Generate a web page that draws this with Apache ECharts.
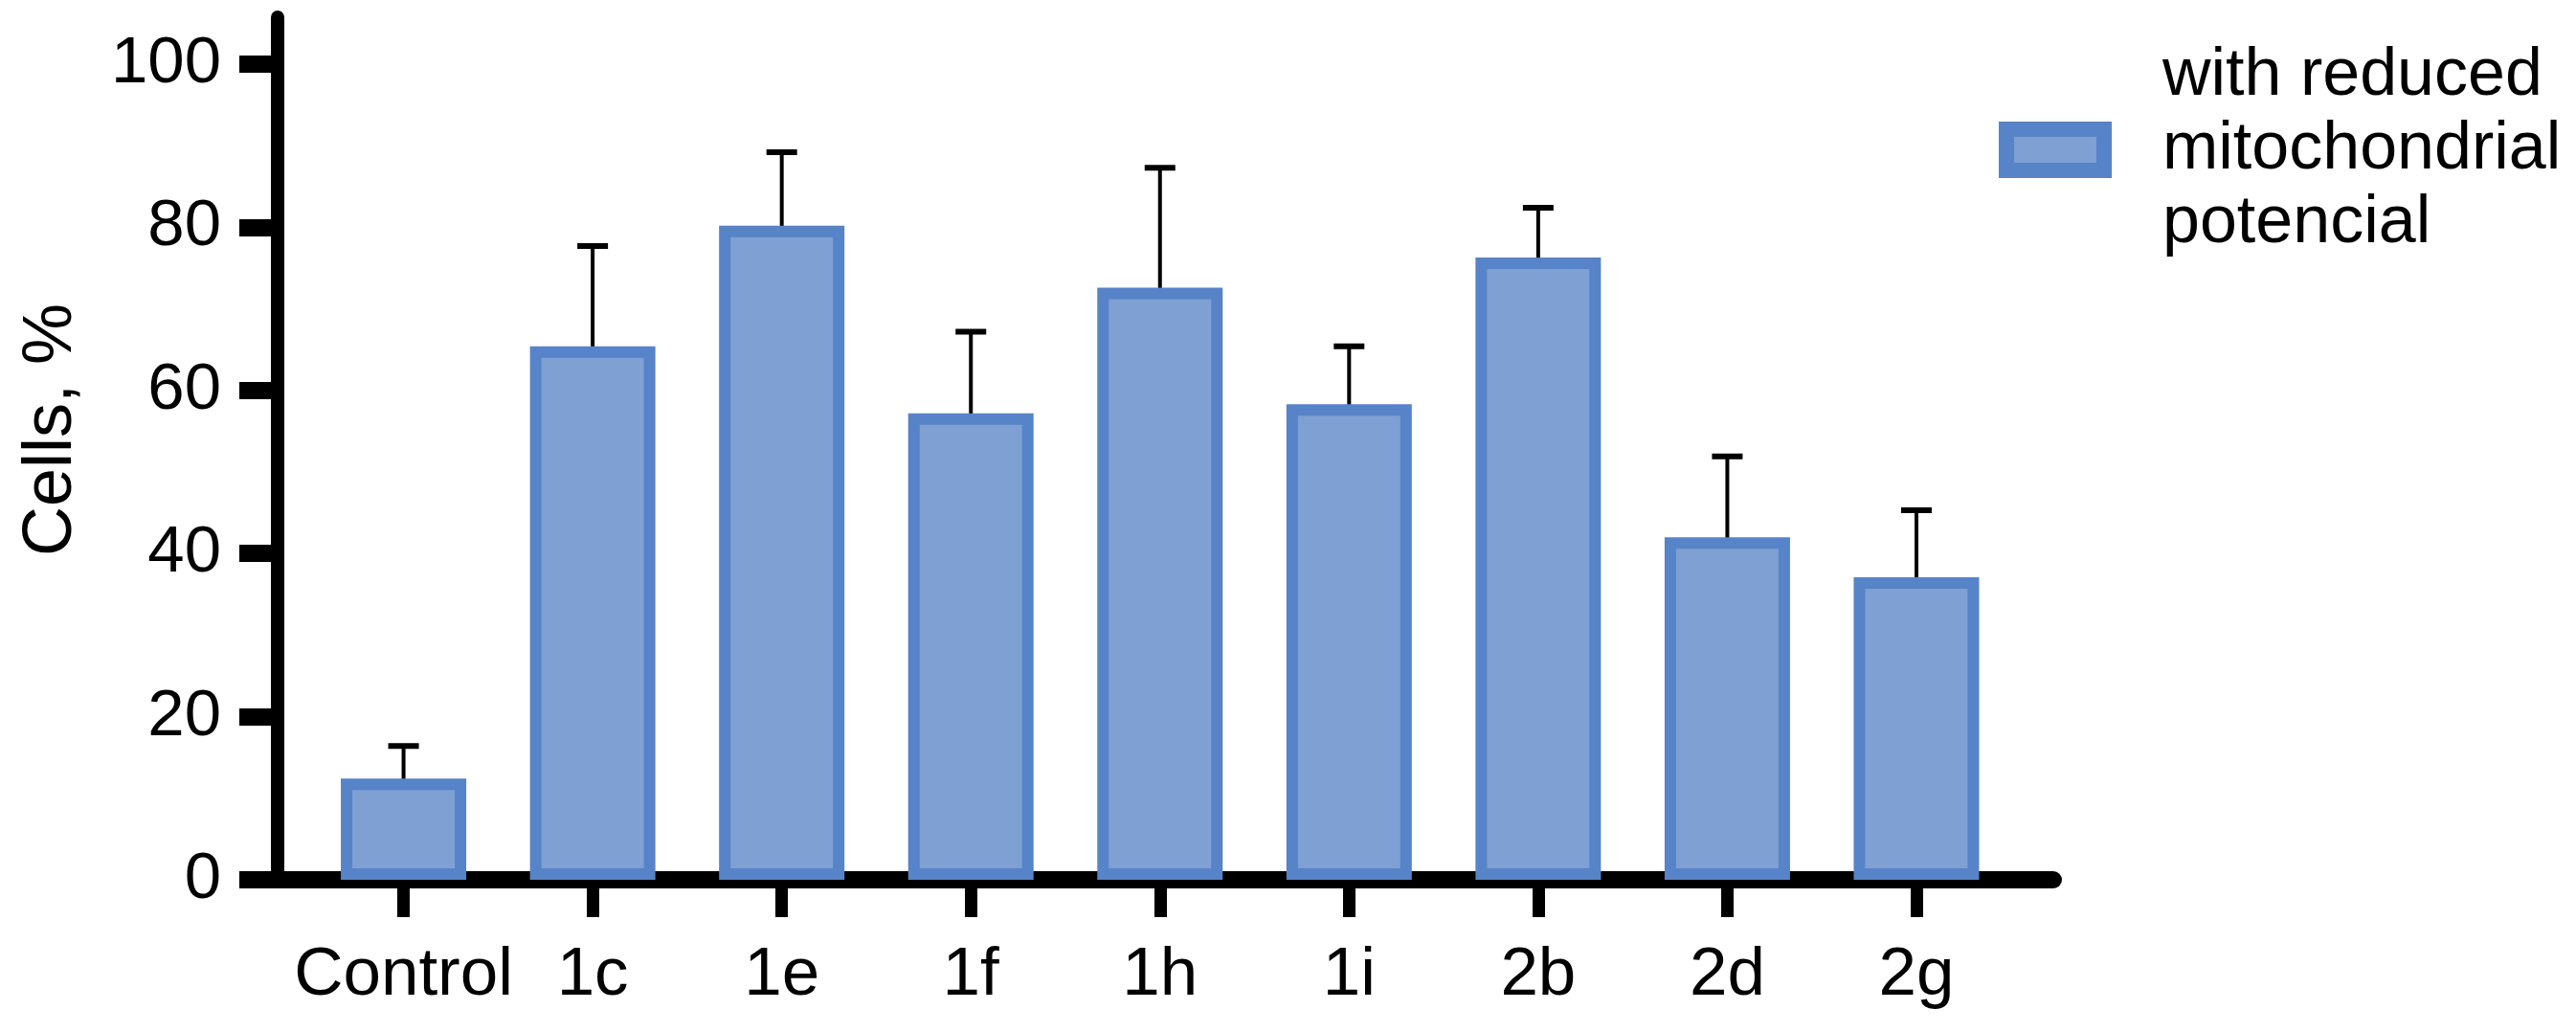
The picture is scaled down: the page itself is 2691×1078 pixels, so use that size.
<!DOCTYPE html>
<html>
<head>
<meta charset="utf-8">
<script src="https://cdn.jsdelivr.net/npm/echarts@6/dist/echarts.min.js"></script>
<style>
html,body{margin:0;padding:0;background:#fff;}
#chart{width:2691px;height:1078px;}
</style>
</head>
<body>
<div id="chart"></div>
<script>
const categories = ['Control', '1c', '1e', '1f', '1h', '1i', '2b', '2d', '2g'];
const means = [12.4, 65.4, 80.2, 57.2, 72.6, 58.3, 76.3, 42.0, 37.1];
const errors = [4.0, 12.3, 9.0, 10.0, 14.7, 7.1, 6.1, 9.9, 8.2];
const yTicks = [0, 20, 40, 60, 80, 100];
const seriesName = 'with reduced mitochondrial potencial';
const legendLines = ['with reduced', 'mitochondrial', 'potencial'];
const yAxisTitle = 'Cells, %';

const FONT = "'Liberation Sans', Arial, sans-serif";
const FILL = '#7ea0d3';
const EDGE = '#5783c8';

const xIdx = categories.map((c, i) => i);
const barData = categories.map((c, i) => [i, means[i]]);
const errData = categories.map((c, i) => [i, means[i], errors[i]]);

const chart = echarts.init(document.getElementById('chart'), null, {renderer: 'canvas'});
chart.setOption({
  animation: false,
  backgroundColor: '#ffffff',
  grid: {left: 290, right: 546, top: 18, bottom: 159, containLabel: false},
  legend: {
    show: true,
    data: [seriesName],
    left: 2088,
    top: 41,
    padding: 0,
    icon: 'rect',
    itemWidth: 102,
    itemHeight: 43,
    itemStyle: {color: FILL, borderColor: EDGE, borderWidth: 16},
    formatter: () => legendLines.join('\n'),
    textStyle: {fontFamily: FONT, fontSize: 70, lineHeight: 77, color: '#000', padding: [0, 0, 0, 56]}
  },
  xAxis: {
    type: 'value',
    min: -0.666,
    max: 8.724,
    splitLine: {show: false},
    axisLine: {show: true, onZero: false, lineStyle: {color: '#000', width: 18}},
    axisTick: {show: true, customValues: xIdx, length: 39, lineStyle: {color: '#000', width: 13}},
    axisLabel: {
      show: true, customValues: xIdx, margin: 65,
      formatter: (v) => categories[Math.round(v)],
      fontFamily: FONT, fontSize: 71, color: '#000'
    }
  },
  yAxis: {
    type: 'value',
    min: 0,
    max: 105.75,
    interval: 20,
    splitLine: {show: false},
    name: yAxisTitle,
    nameLocation: 'middle',
    nameGap: 200,
    nameTextStyle: {fontFamily: FONT, fontSize: 72, color: '#000', padding: [0, 0, 0, 39]},
    axisLine: {show: true, onZero: false, lineStyle: {color: '#000', width: 14}},
    axisTick: {show: true, customValues: yTicks, length: 40, lineStyle: {color: '#000', width: 18}},
    axisLabel: {show: true, customValues: yTicks, margin: 59, fontFamily: FONT, fontSize: 69, color: '#000'}
  },
  series: [
    {
      name: seriesName,
      type: 'bar',
      data: barData,
      barWidth: 131,
      z: 3,
      itemStyle: {color: FILL, borderColor: EDGE, borderWidth: 12}
    },
    {
      name: 'err',
      type: 'custom',
      z: 1,
      data: errData,
      encode: {x: 0, y: 1},
      renderItem: function (params, api) {
        const x = api.value(0);
        const m = api.value(1);
        const e = api.value(2);
        const p0 = api.coord([x, m]);
        const p1 = api.coord([x, m + e]);
        const half = 16;
        return {
          type: 'group',
          children: [
            {type: 'line', shape: {x1: p0[0], y1: p0[1] + 8, x2: p1[0], y2: p1[1]}, style: {stroke: '#000', lineWidth: 4}},
            {type: 'line', shape: {x1: p1[0] - half, y1: p1[1], x2: p1[0] + half, y2: p1[1]}, style: {stroke: '#000', lineWidth: 6}}
          ]
        };
      }
    }
  ]
});
</script>
</body>
</html>
